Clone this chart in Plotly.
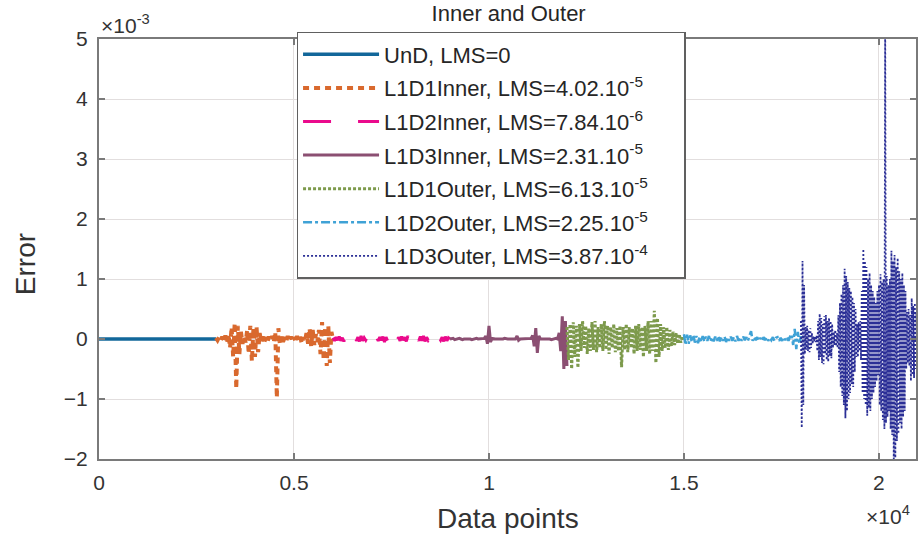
import numpy as np
import plotly.graph_objects as go

# ---------------- data (error values in units of 1e-3) ----------------
step = 40  # data-point spacing of the read-off samples

und_start = 0
und_vals = [0.0, 0.0]
und_step = 3000

l1d1in_start = 3000
l1d1in_vals = [
    0.02, -0.02, 0.03, -0.03, 0.04, -0.05, 0.06, -0.04, 0.08,
    -0.15, 0.20, -0.30, 0.27, -0.83, 0.22, -0.25, 0.12,
    -0.08, 0.05, -0.06,
    0.15, -0.25, 0.22, -0.37, 0.18, -0.30, 0.20, -0.22, 0.10,
    -0.06, 0.04, -0.05, 0.03, -0.05, 0.04, -0.03, 0.05, -0.06,
    0.12, -0.98, 0.18, -0.10,
    0.04, -0.05, 0.03, -0.04, 0.05, -0.03, 0.04, -0.05, 0.03, -0.04, 0.05, -0.03, 0.04, -0.08, 0.03, -0.04,
    0.10, -0.08, 0.18, -0.12, 0.15, -0.10, 0.08, -0.05,
    0.15, -0.25, 0.28, -0.35, 0.20, -0.45, 0.22, -0.40, 0.12, 0.0,
]

l1d2in_start = 6000
l1d2in_vals = [
    0.02, -0.03, 0.03, -0.02, 0.04, -0.03, 0.02, -0.04, 0.03, -0.02,
    0.03, -0.03, 0.02, -0.02, 0.04, -0.03, 0.03, -0.04, 0.05, -0.03,
    0.02, -0.02, 0.03, -0.03, 0.04, -0.04, 0.03, -0.02, 0.02, -0.03,
    0.03, -0.02, 0.04, -0.05, 0.03, -0.03, 0.02, -0.02, 0.03, -0.03,
    0.05, -0.04, 0.03, -0.03, 0.04, -0.02, 0.03, -0.04, 0.05, -0.03,
    0.04, -0.03, 0.02, -0.02, 0.03, -0.03, 0.04, -0.03, 0.05, -0.04,
    0.03, -0.02, 0.02, -0.03, 0.04, -0.02, 0.03, -0.03, 0.02, -0.02,
    0.03, -0.04, 0.04, -0.03, 0.02, 0.0,
]

l1d3in_start = 9000
l1d3in_vals = [
    0.0, 0.0, 0.01, -0.01, 0.0, 0.0, 0.01, 0.0, -0.01, 0.0,
    0.0, 0.01, 0.0, 0.0, -0.01, 0.0, 0.0, 0.01, 0.0, 0.0,
    0.0, 0.0, 0.01, 0.05, -0.08, 0.22, -0.05, 0.01, 0.0, 0.0,
    0.0, 0.0, -0.01, 0.0, 0.0, 0.01, 0.0, 0.0, 0.0, 0.0,
    0.0, 0.01, 0.0, 0.05, -0.02, 0.0, 0.0, 0.0, 0.01, 0.0,
    0.0, 0.0, 0.01, 0.06, -0.12, 0.18, -0.23, 0.05, 0.0, 0.0,
    0.0, 0.01, 0.0, 0.0, 0.0, -0.01, 0.0, 0.0, 0.01, 0.0,
    0.10, -0.20, 0.38, -0.50, 0.30, -0.45,
]

l1d1out_start = 12000
l1d1out_vals = [
    0.20, -0.35, 0.25, -0.50, 0.28, -0.30, 0.22, -0.48, 0.25, -0.20,
    0.30, -0.15, 0.22, -0.25, 0.18, -0.20, 0.28, -0.18, 0.30, -0.22,
    0.20, -0.15, 0.25, -0.20, 0.30, -0.18, 0.22, -0.25, 0.20, -0.15,
    0.25, -0.22, 0.18, -0.20, 0.22, -0.47, 0.20, -0.18, 0.25, -0.22,
    0.20, -0.15, 0.18, -0.25, 0.22, -0.20, 0.25, -0.18, 0.20, -0.30,
    0.22, -0.20, 0.30, -0.25, 0.30, -0.20, 0.47, -0.40, 0.35, -0.30,
    0.25, -0.20, 0.20, -0.15, 0.20, -0.18, 0.15, -0.12, 0.12, -0.10,
    0.10, -0.08, 0.08, -0.06, 0.05, -0.03,
]

l1d2out_start = 15000
l1d2out_vals = [
    0.08, -0.10, 0.07, -0.08, 0.06, -0.05, 0.07, -0.06, 0.05, -0.07,
    0.04, -0.05, 0.05, -0.04, 0.04, -0.03, 0.05, -0.04, 0.03, -0.04,
    0.04, -0.03, 0.05, -0.04, 0.03, -0.03, 0.04, -0.05, 0.03, -0.03,
    0.04, -0.03, 0.03, -0.04, 0.05, -0.03, 0.03, -0.03, 0.04, -0.02,
    0.03, -0.03, 0.06, 0.13, -0.03, 0.03, -0.02, 0.03, -0.03, 0.02,
    -0.03, 0.03, -0.02, 0.03, -0.03, 0.02, -0.02, 0.03, -0.03, 0.02,
    0.03, -0.03, 0.02, -0.03, 0.03, -0.02, 0.03, -0.03, 0.04, 0.08,
    -0.10, 0.17, -0.17, 0.12, -0.08, 0.05,
]

l1d3out_start = 18000
l1d3out_step = 20
l1d3out_vals = [
    0.30, -1.48, 1.30, -1.10, 0.90,
    -0.25, 0.20, -0.18, 0.22, -0.20, 0.15, -0.22, 0.18, -0.15, 0.10, -0.08, 0.05, -0.04, 0.03, -0.05, 0.06,
    -0.20, 0.30, -0.35, 0.42, -0.30, 0.35, -0.40, 0.25, -0.42, 0.38, -0.25, 0.40, -0.35, 0.30, -0.38, 0.35, -0.28, 0.30, -0.32, 0.25,
    -0.15, 0.12, -0.10, 0.15, -0.12, 0.10, -0.15,
    0.40, -0.55, 0.60, -0.80, 0.75, -0.95, 0.90, -1.10, 1.17, -1.32, 1.05, -1.20, 0.95, -1.00, 0.85, -0.90, 0.80, -0.75, 0.70, -0.80, 0.60, -0.55, 0.50,
    -0.30, 0.25, -0.30, 0.28, -0.20, 0.30, -0.35,
    0.80, -0.90, 1.50, -1.00, 1.30, -1.10, 1.20, -1.28, 1.00, -1.15, 1.10, -1.20, 0.90, -1.00, 0.80, -0.90, 0.70, -0.80,
    0.60, -0.70, 0.80, -0.60, 0.90,
    -1.10, 1.08, -1.20, 0.95, -1.35, 1.00, -1.50, 5.40, -1.40, 1.05, -1.30, 0.90, -1.20, 1.00,
    -1.50, 1.47, -1.60, 1.30, -2.10, 1.40, -1.98, 1.20, -1.70, 1.35, -1.58,
    1.13, -1.40, 1.00, -1.50, 1.10, -1.30, 0.90, -1.20, 0.80,
    -0.50, 0.45, -0.40, 0.50, -0.45, 0.40,
    -0.70, 0.68, -0.60, 0.55, -0.65, 0.60, -0.50, 0.45, -0.40, 0.35,
]

names = [
    "UnD, LMS=0",
    "L1D1Inner, LMS=4.02.10<sup>-5</sup>",
    "L1D2Inner, LMS=7.84.10<sup>-6</sup>",
    "L1D3Inner, LMS=2.31.10<sup>-5</sup>",
    "L1D1Outer, LMS=6.13.10<sup>-5</sup>",
    "L1D2Outer, LMS=2.25.10<sup>-5</sup>",
    "L1D3Outer, LMS=3.87.10<sup>-4</sup>",
]

x_tickvals = [0, 5000, 10000, 15000, 20000]
x_ticktext = ["0", "0.5", "1", "1.5", "2"]
y_tickvals = [-2, -1, 0, 1, 2, 3, 4, 5]

# ---------------- styles ----------------
styles = [
    dict(color="#12679a", width=3.5, dash="solid"),
    dict(color="#d9692e", width=4, dash="6px,5px"),
    dict(color="#ea0a8c", width=3, dash="28px,27px"),
    dict(color="#8b4f72", width=3, dash="solid"),
    dict(color="#7d9a4c", width=3, dash="3px,2px"),
    dict(color="#3fa2d6", width=2.5, dash="9px,3px,3px,3px"),
    dict(color="#2b2f96", width=1.8, dash="2px,2px"),
]

series = [
    (und_start, und_step, und_vals),
    (l1d1in_start, step, l1d1in_vals),
    (l1d2in_start, step, l1d2in_vals),
    (l1d3in_start, step, l1d3in_vals),
    (l1d1out_start, step, l1d1out_vals),
    (l1d2out_start, step, l1d2out_vals),
    (l1d3out_start, l1d3out_step, l1d3out_vals),
]

legend_pad = "\u00a0" * 5  # widens the legend box like the reference

fig = go.Figure()
for k, ((start, st, vals), name, sty) in enumerate(zip(series, names, styles)):
    x = start + st * np.arange(len(vals))
    fig.add_trace(go.Scatter(
        x=x, y=vals, mode="lines", name=name + legend_pad, legendgroup=f"g{k}",
        line=dict(color=sty["color"], width=sty["width"], dash=sty["dash"]),
    ))

font_family = "Liberation Sans, Arial, sans-serif"
text_color = "#333333"
axis_common = dict(
    showline=True, mirror="ticks", linecolor="#7a7a7a", linewidth=2,
    ticks="inside", ticklen=6, tickcolor="#7a7a7a", tickwidth=1.5,
    showgrid=True, gridcolor="#e2dede", gridwidth=1, zeroline=False,
    tickfont=dict(family=font_family, size=21, color=text_color),
)

fig.update_layout(
    width=924, height=534,
    margin=dict(l=99, r=6, t=39, b=75),
    paper_bgcolor="white", plot_bgcolor="white",
    font=dict(family=font_family, color=text_color),
    title=dict(text="Inner and Outer", x=0.5505, xanchor="center", y=0.975, yanchor="middle",
               font=dict(size=22, color="#262626", family=font_family)),
    xaxis=dict(range=[0, 20950], tickvals=x_tickvals, ticktext=x_ticktext,
               ticklabelstandoff=4, **axis_common),
    yaxis=dict(range=[-2, 5], tickvals=y_tickvals, ticklabelstandoff=5, **axis_common),
    legend=dict(
        x=0.2418, y=1.0167, xanchor="left", yanchor="top",
        bgcolor="white", bordercolor="#606060", borderwidth=1.5,
        font=dict(size=22, color="#262626", family=font_family),
        itemwidth=76, tracegroupgap=2, maxheight=534,
    ),
    showlegend=True,
)

# axis titles and exponent labels
fig.add_annotation(text="Data points", xref="paper", yref="paper", x=0.5, y=-(518 - 459) / 420,
                   xanchor="center", yanchor="middle", showarrow=False,
                   font=dict(size=28, color=text_color, family=font_family))
fig.add_annotation(text="Error", xref="paper", yref="paper", x=-(99 - 25) / 819, y=(459 - 264) / 420,
                   xanchor="center", yanchor="middle", textangle=-90, showarrow=False,
                   font=dict(size=28, color=text_color, family=font_family))
fig.add_annotation(text="×10<sup>-3</sup>", xref="paper", yref="paper", x=0.0, y=1.0,
                   xanchor="left", yanchor="bottom", showarrow=False,
                   font=dict(size=21, color=text_color, family=font_family))
fig.add_annotation(text="×10<sup>4</sup>", xref="paper", yref="paper", x=0.995, y=-(515 - 459) / 420,
                   xanchor="right", yanchor="middle", showarrow=False,
                   font=dict(size=21, color=text_color, family=font_family))

fig.write_html("out.html")
